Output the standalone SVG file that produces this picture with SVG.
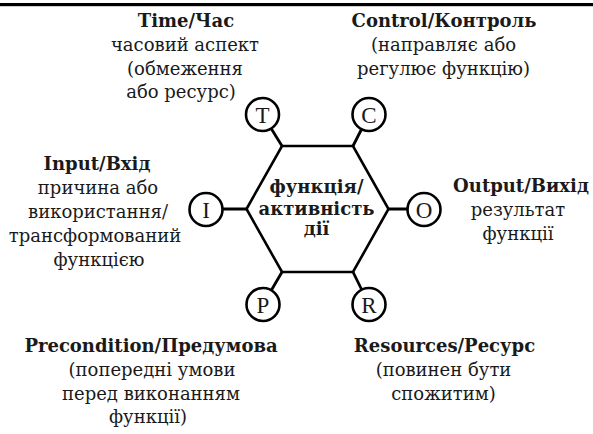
<svg xmlns="http://www.w3.org/2000/svg" width="593" height="434" viewBox="0 0 593 434">
<style>
text{font-family:"DejaVu Serif","Liberation Serif",serif;font-size:18px;fill:#1a1a1a;text-anchor:middle}
.h{font-weight:bold}
.l{font-family:"Liberation Serif","DejaVu Serif",serif;font-size:23px}
.node{fill:#fff;stroke:#000;stroke-width:2.6}
.conn{stroke:#000;stroke-width:2.8;fill:none}
</style>
<rect x="0" y="0" width="593" height="434" fill="#fff"/>
<rect x="0" y="3" width="593" height="3.2" fill="#000"/>
<g id="connectors">
<line class="conn" x1="282" y1="146" x2="262.5" y2="114.5"/>
<line class="conn" x1="353" y1="146" x2="369" y2="114.5"/>
<line class="conn" x1="246.5" y1="209" x2="206" y2="209"/>
<line class="conn" x1="388.5" y1="209" x2="424" y2="209"/>
<line class="conn" x1="282" y1="272" x2="263" y2="304.5"/>
<line class="conn" x1="353" y1="272" x2="369" y2="304.5"/>
</g>
<g id="function">
<polygon class="node" stroke-width="2.8" stroke-linejoin="miter" points="246.5,209 282,146 353,146 388.5,209 353,272 282,272"/>
<text class="h" x="316.5" y="193">функція/</text>
<text class="h" x="316.5" y="215">активність</text>
<text class="h" x="316.5" y="235">дії</text>
</g>
<g id="T">
<circle class="node" cx="262.5" cy="114.5" r="16.5"/>
<text class="l" x="262.5" y="122.5">T</text>
</g>
<g id="C">
<circle class="node" cx="369" cy="114.5" r="16.5"/>
<text class="l" x="369" y="122.5">C</text>
</g>
<g id="I">
<circle class="node" cx="206" cy="209.5" r="16.5"/>
<text class="l" x="206" y="217.5">I</text>
</g>
<g id="O">
<circle class="node" cx="424" cy="209.5" r="16.5"/>
<text class="l" x="424" y="217.5">O</text>
</g>
<g id="P">
<circle class="node" cx="263" cy="304.5" r="16.5"/>
<text class="l" x="263" y="312.5">P</text>
</g>
<g id="R">
<circle class="node" cx="369" cy="304.5" r="16.5"/>
<text class="l" x="369" y="312.5">R</text>
</g>
<g id="time-label">
<text class="h" x="186" y="27">Time/Час</text>
<text x="185" y="51">часовий аспект</text>
<text x="185" y="75">(обмеження</text>
<text x="181" y="98">або ресурс)</text>
</g>
<g id="control-label">
<text class="h" x="444" y="27">Control/Контроль</text>
<text x="443.5" y="51">(направляє або</text>
<text x="443.5" y="75">регулює функцію)</text>
</g>
<g id="input-label">
<text class="h" x="97" y="170">Input/Вхід</text>
<text x="98" y="194">причина або</text>
<text x="98" y="218">використання/</text>
<text x="95" y="242">трансформований</text>
<text x="99" y="266">функцією</text>
</g>
<g id="output-label">
<text class="h" x="521" y="192">Output/Вихід</text>
<text x="518" y="216">результат</text>
<text x="518" y="240">функції</text>
</g>
<g id="precondition-label">
<text class="h" x="151" y="352">Precondition/Предумова</text>
<text x="152" y="376">(попередні умови</text>
<text x="151" y="400">перед виконанням</text>
<text x="148" y="423">функції)</text>
</g>
<g id="resources-label">
<text class="h" x="444.5" y="352">Resources/Ресурс</text>
<text x="443.5" y="376">(повинен бути</text>
<text x="443.5" y="400">спожитим)</text>
</g>
</svg>
